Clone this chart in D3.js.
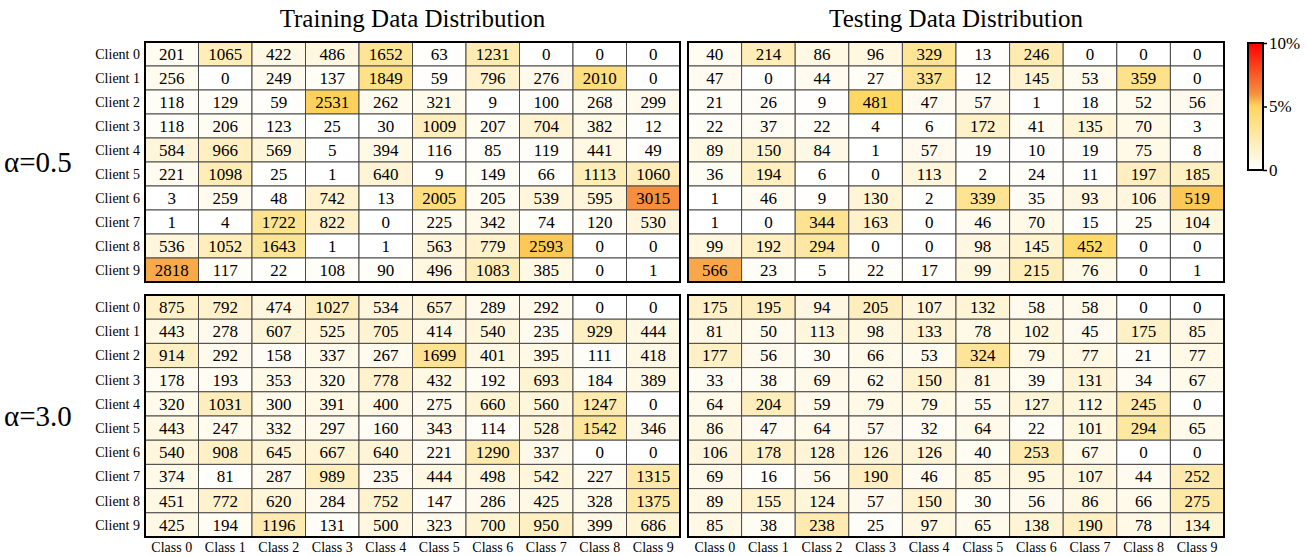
<!DOCTYPE html>
<html>
<head>
<meta charset="utf-8">
<script src="https://cdn.jsdelivr.net/npm/d3@7"></script>
<style>
  body { margin: 0; background: #fff; }
  svg text { font-family: "Liberation Serif", "Times New Roman", serif; }
</style>
</head>
<body>
<div id="chart"></div>
<script>
// labels
var clients = ["Client 0", "Client 1", "Client 2", "Client 3", "Client 4",
  "Client 5", "Client 6", "Client 7", "Client 8", "Client 9"];
var classes = ["Class 0", "Class 1", "Class 2", "Class 3", "Class 4",
  "Class 5", "Class 6", "Class 7", "Class 8", "Class 9"];

// full dataset sizes (colour = share of these)
var trainSize = 50000, testSize = 10000;

// alpha = 0.5
var trainA05 = [
  [201, 1065, 422, 486, 1652, 63, 1231, 0, 0, 0],
  [256, 0, 249, 137, 1849, 59, 796, 276, 2010, 0],
  [118, 129, 59, 2531, 262, 321, 9, 100, 268, 299],
  [118, 206, 123, 25, 30, 1009, 207, 704, 382, 12],
  [584, 966, 569, 5, 394, 116, 85, 119, 441, 49],
  [221, 1098, 25, 1, 640, 9, 149, 66, 1113, 1060],
  [3, 259, 48, 742, 13, 2005, 205, 539, 595, 3015],
  [1, 4, 1722, 822, 0, 225, 342, 74, 120, 530],
  [536, 1052, 1643, 1, 1, 563, 779, 2593, 0, 0],
  [2818, 117, 22, 108, 90, 496, 1083, 385, 0, 1]
];
var testA05 = [
  [40, 214, 86, 96, 329, 13, 246, 0, 0, 0],
  [47, 0, 44, 27, 337, 12, 145, 53, 359, 0],
  [21, 26, 9, 481, 47, 57, 1, 18, 52, 56],
  [22, 37, 22, 4, 6, 172, 41, 135, 70, 3],
  [89, 150, 84, 1, 57, 19, 10, 19, 75, 8],
  [36, 194, 6, 0, 113, 2, 24, 11, 197, 185],
  [1, 46, 9, 130, 2, 339, 35, 93, 106, 519],
  [1, 0, 344, 163, 0, 46, 70, 15, 25, 104],
  [99, 192, 294, 0, 0, 98, 145, 452, 0, 0],
  [566, 23, 5, 22, 17, 99, 215, 76, 0, 1]
];

// alpha = 3.0
var trainA30 = [
  [875, 792, 474, 1027, 534, 657, 289, 292, 0, 0],
  [443, 278, 607, 525, 705, 414, 540, 235, 929, 444],
  [914, 292, 158, 337, 267, 1699, 401, 395, 111, 418],
  [178, 193, 353, 320, 778, 432, 192, 693, 184, 389],
  [320, 1031, 300, 391, 400, 275, 660, 560, 1247, 0],
  [443, 247, 332, 297, 160, 343, 114, 528, 1542, 346],
  [540, 908, 645, 667, 640, 221, 1290, 337, 0, 0],
  [374, 81, 287, 989, 235, 444, 498, 542, 227, 1315],
  [451, 772, 620, 284, 752, 147, 286, 425, 328, 1375],
  [425, 194, 1196, 131, 500, 323, 700, 950, 399, 686]
];
var testA30 = [
  [175, 195, 94, 205, 107, 132, 58, 58, 0, 0],
  [81, 50, 113, 98, 133, 78, 102, 45, 175, 85],
  [177, 56, 30, 66, 53, 324, 79, 77, 21, 77],
  [33, 38, 69, 62, 150, 81, 39, 131, 34, 67],
  [64, 204, 59, 79, 79, 55, 127, 112, 245, 0],
  [86, 47, 64, 57, 32, 64, 22, 101, 294, 65],
  [106, 178, 128, 126, 126, 40, 253, 67, 0, 0],
  [69, 16, 56, 190, 46, 85, 95, 107, 44, 252],
  [89, 155, 124, 57, 150, 30, 56, 86, 66, 275],
  [85, 38, 238, 25, 97, 65, 138, 190, 78, 134]
];

var colTitles = ["Training Data Distribution", "Testing Data Distribution"];
var rowTitles = ["\u03b1=0.5", "\u03b1=3.0"];
var cbTicks = [0, 0.05, 0.1];

var serif = "'Liberation Serif', 'Times New Roman', serif";
var width = 1307, height = 556;
var svg = d3.select("#chart").append("svg")
  .attr("width", width)
  .attr("height", height);

// panel frames
var colX = [[145, 680], [688, 1224]];
var rowY = [[42, 282], [295, 537]];

// colour: share of the dataset, 0..10%
var color = d3.scaleLinear()
  .domain([0, 0.05, 0.06, 0.1])
  .range(["#ffffff", "#fed65e", "#f5903f", "#ff0000"])
  .clamp(true);

var panels = [
  { data: trainA05, total: trainSize, c: 0, r: 0 },
  { data: testA05, total: testSize, c: 1, r: 0 },
  { data: trainA30, total: trainSize, c: 0, r: 1 },
  { data: testA30, total: testSize, c: 1, r: 1 }
];

panels.forEach(function(p) {
  var x = d3.scaleBand().domain(classes).range(colX[p.c]);
  var y = d3.scaleBand().domain(clients).range(rowY[p.r]);
  var g = svg.append("g");

  var cells = [];
  p.data.forEach(function(row, i) {
    row.forEach(function(v, j) {
      cells.push({ client: clients[i], cls: classes[j], value: v });
    });
  });

  g.selectAll("rect.cell")
    .data(cells)
    .enter()
    .append("rect")
    .attr("class", "cell")
    .attr("x", function(d) { return x(d.cls); })
    .attr("y", function(d) { return y(d.client); })
    .attr("width", x.bandwidth())
    .attr("height", y.bandwidth())
    .attr("fill", function(d) { return color(d.value / p.total); })
    .attr("stroke", "#4a4a4a")
    .attr("stroke-width", 1);

  g.selectAll("text.val")
    .data(cells)
    .enter()
    .append("text")
    .attr("class", "val")
    .attr("x", function(d) { return x(d.cls) + x.bandwidth() / 2; })
    .attr("y", function(d) { return y(d.client) + y.bandwidth() / 2; })
    .attr("dy", "0.35em")
    .attr("text-anchor", "middle")
    .attr("font-family", serif)
    .style("font-size", "17px")
    .text(function(d) { return d.value; });

  // outer frame
  g.append("rect")
    .attr("x", colX[p.c][0])
    .attr("y", rowY[p.r][0])
    .attr("width", colX[p.c][1] - colX[p.c][0])
    .attr("height", rowY[p.r][1] - rowY[p.r][0])
    .attr("fill", "none")
    .attr("stroke", "#000")
    .attr("stroke-width", 2);

  // client labels only on left panels
  if (p.c === 0) {
    g.selectAll("text.client")
      .data(clients)
      .enter()
      .append("text")
      .attr("class", "client")
      .attr("x", colX[0][0] - 5)
      .attr("y", function(d) { return y(d) + y.bandwidth() / 2; })
      .attr("dy", "0.35em")
      .attr("text-anchor", "end")
      .attr("font-family", serif)
      .style("font-size", "14px")
      .text(function(d) { return d; });
  }

  // class labels only on bottom panels
  if (p.r === 1) {
    g.selectAll("text.cls")
      .data(classes)
      .enter()
      .append("text")
      .attr("class", "cls")
      .attr("x", function(d) { return x(d) + x.bandwidth() / 2; })
      .attr("y", rowY[1][1] + 15)
      .attr("text-anchor", "middle")
      .attr("font-family", serif)
      .style("font-size", "14px")
      .text(function(d) { return d; });
  }
});

// column titles
svg.selectAll("text.coltitle")
  .data(colTitles)
  .enter()
  .append("text")
  .attr("class", "coltitle")
  .attr("x", function(d, i) { return (colX[i][0] + colX[i][1]) / 2; })
  .attr("y", 27)
  .attr("text-anchor", "middle")
  .attr("font-family", serif)
  .style("font-size", "25px")
  .text(function(d) { return d; });

// row titles
svg.selectAll("text.rowtitle")
  .data(rowTitles)
  .enter()
  .append("text")
  .attr("class", "rowtitle")
  .attr("x", 4)
  .attr("y", function(d, i) { return (rowY[i][0] + rowY[i][1]) / 2 + 10; })
  .attr("font-family", serif)
  .style("font-size", "29px")
  .text(function(d) { return d; });

// colour bar
var cbX = 1248, cbW = 15;
var cbScale = d3.scaleLinear().domain([0, 0.1]).range([170, 43]);
var defs = svg.append("defs");
var grad = defs.append("linearGradient")
  .attr("id", "cbgrad")
  .attr("x1", "0").attr("y1", "1")
  .attr("x2", "0").attr("y2", "0");
d3.range(0, 1.0001, 0.05).forEach(function(t) {
  grad.append("stop")
    .attr("offset", t)
    .attr("stop-color", color(t * 0.1));
});
svg.append("rect")
  .attr("x", cbX)
  .attr("y", 43)
  .attr("width", cbW)
  .attr("height", 127)
  .attr("fill", "url(#cbgrad)")
  .attr("stroke", "#000")
  .attr("stroke-width", 2);

var cbAxis = svg.append("g")
  .attr("transform", "translate(" + (cbX + cbW) + ",0)")
  .call(d3.axisRight(cbScale)
    .tickValues(cbTicks)
    .tickSize(4)
    .tickFormat(function(d) { return d === 0 ? "0" : Math.round(d * 100) + "%"; }));
cbAxis.select(".domain").remove();
cbAxis.selectAll("line").attr("stroke", "#000").attr("stroke-width", 1.5);
cbAxis.selectAll("text")
  .attr("x", 6)
  .attr("font-family", serif)
  .style("font-size", "17px")
  .attr("fill", "#000");
</script>
</body>
</html>
